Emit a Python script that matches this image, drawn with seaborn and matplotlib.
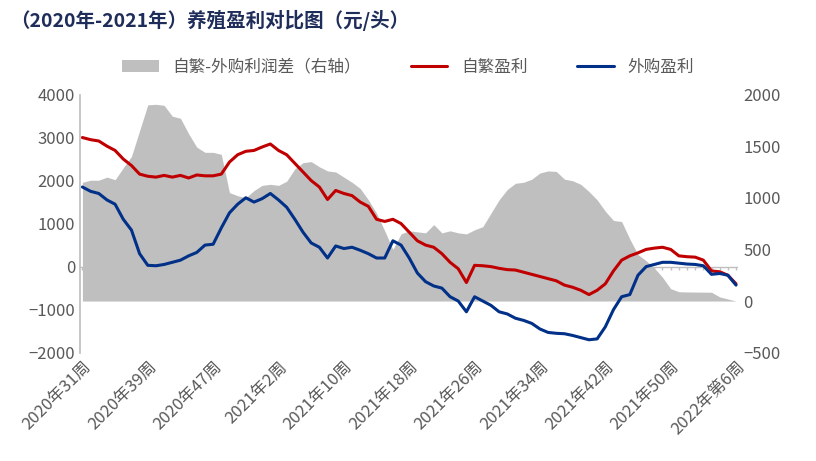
import matplotlib
matplotlib.use("Agg")
import matplotlib.pyplot as plt
import seaborn as sns
import numpy as np
import pandas as pd

sns.set_theme(style="white")
plt.rcParams['font.family'] = ['Noto Sans CJK SC', 'DejaVu Sans']

weeks = [f"2020年第{w}周" for w in range(31, 54)] + [f"2021年第{w}周" for w in range(1, 53)] + [f"2022年第{w}周" for w in range(1, 7)]
tick_labels = ["2020年31周", "2020年39周", "2020年47周", "2021年2周", "2021年10周", "2021年18周",
               "2021年26周", "2021年34周", "2021年42周", "2021年50周", "2022年第6周"]
self_profit = [3000, 2950, 2920, 2800, 2700, 2500, 2350, 2150, 2100, 2080, 2120, 2080, 2120, 2060, 2130, 2110,
               2110, 2150, 2430, 2600, 2680, 2700, 2780, 2850, 2700, 2600, 2400, 2200, 2000, 1850, 1560, 1770,
               1700, 1650, 1500, 1400, 1100, 1050, 1100, 1000, 800, 600, 500, 450, 300, 100, -50, -370, 30, 20,
               0, -40, -70, -80, -130, -180, -230, -280, -330, -430, -480, -550, -650, -550, -400, -100, 150,
               250, 320, 400, 430, 450, 400, 250, 230, 220, 150, -100, -120, -200, -400]
buy_profit = [1850, 1750, 1700, 1550, 1450, 1100, 850, 300, 30, 20, 50, 100, 150, 250, 330, 500, 520, 900,
              1250, 1450, 1600, 1500, 1580, 1700, 1550, 1380, 1100, 800, 550, 450, 200, 480, 420, 450, 380,
              300, 200, 200, 600, 500, 200, -150, -350, -450, -500, -700, -800, -1050, -700, -800, -900,
              -1050, -1100, -1200, -1250, -1320, -1450, -1530, -1550, -1560, -1600, -1650, -1700, -1680,
              -1400, -1000, -700, -650, -200, 0, 50, 100, 100, 80, 60, 50, 20, -180, -160, -200, -430]
diff = [1150, 1170, 1170, 1200, 1175, 1290, 1400, 1650, 1900, 1905, 1895, 1790, 1770, 1620, 1490, 1440, 1440,
        1420, 1050, 1020, 1000, 1070, 1120, 1130, 1120, 1160, 1280, 1340, 1350, 1300, 1260, 1250, 1200, 1150,
        1090, 980, 850, 680, 500, 650, 680, 670, 660, 740, 660, 680, 660, 650, 690, 720, 850, 980, 1080, 1140,
        1150, 1180, 1240, 1260, 1255, 1180, 1165, 1130, 1060, 980, 870, 780, 770, 600, 450, 390, 320, 230,
        120, 90, 88, 87, 86, 85, 40, 20, 0]

df = pd.DataFrame({"week": weeks, "self": self_profit, "buy": buy_profit, "diff": diff})
x = np.arange(len(df))
df["x"] = x

fig, ax = plt.subplots(figsize=(8.16, 4.61), dpi=100)
fig.subplots_adjust(left=0.098, right=0.905, top=0.795, bottom=0.235)
ax2 = ax.twinx()
ax.set_ylim(-2000, 4000)
ax2.set_ylim(-500, 2000)
# category axis line at left-axis zero (drawn beneath the area)
zero_r = -500 + 2500 / 3
ax2.axhline(zero_r, color="#bfbfbf", lw=1, zorder=0)
ax2.vlines(x, zero_r - 28, zero_r, color="#bfbfbf", lw=1, zorder=0)
ax2.fill_between(df["x"], 0, df["diff"], color="#bfbfbf", lw=0, label="自繁-外购利润差（右轴）", zorder=1)
ax.set_zorder(ax2.get_zorder() + 1)
ax.patch.set_visible(False)
sns.lineplot(data=df, x="x", y="self", ax=ax, color="#c00000", lw=2.2, label="自繁盈利")
sns.lineplot(data=df, x="x", y="buy", ax=ax, color="#003087", lw=2.2, label="外购盈利")

ax.set_yticks(range(-2000, 4001, 1000))
ax2.set_yticks(range(-500, 2001, 500))
ax.set_xlim(-0.3, len(df) - 0.7)
ax.set_xticks(x[::8])
ax.set_xticklabels(tick_labels, rotation=45, ha="right", rotation_mode="anchor")
ax.set_xlabel("")
ax.set_ylabel("")
for a in (ax, ax2):
    for s in a.spines.values():
        s.set_visible(False)
    a.tick_params(axis="both", colors="#595959", labelsize=12, length=0)
ax.spines["left"].set_visible(True)
ax.spines["left"].set_color("#bfbfbf")
ax.tick_params(axis="x", pad=4)

h1, l1 = ax2.get_legend_handles_labels()
h2, l2 = ax.get_legend_handles_labels()
if ax.legend_:
    ax.legend_.remove()
fig.legend(h1 + h2, l1 + l2, loc="upper center", bbox_to_anchor=(0.5, 0.905), ncol=3, frameon=False,
           fontsize=12, labelcolor="#595959", columnspacing=3, handlelength=2.2)
fig.text(0.012, 0.955, "（2020年-2021年）养殖盈利对比图（元/头）", fontsize=14, fontweight="bold",
         color="#1f2d5a", va="center")
fig.savefig("out.png", dpi=100)
